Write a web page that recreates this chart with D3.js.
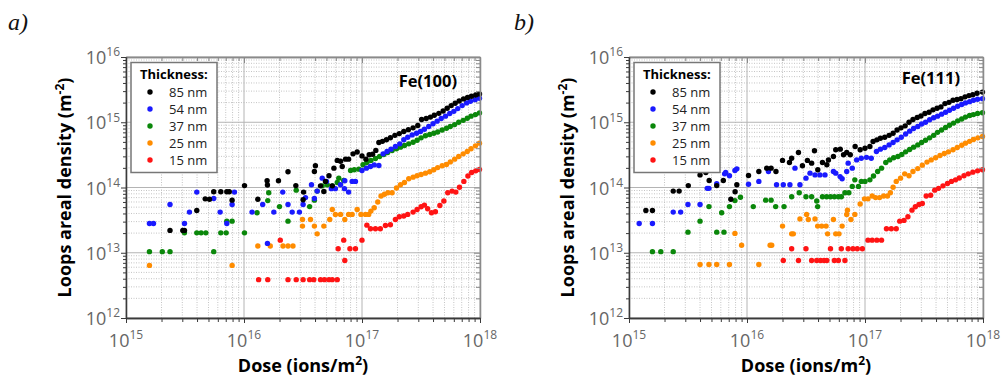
<!DOCTYPE html>
<html>
<head>
<meta charset="utf-8">
<script src="https://cdn.jsdelivr.net/npm/d3@7"></script>
<style>
  body { margin: 0; background: #fff; }
  text { font-family: "Open Sans", sans-serif; }
</style>
</head>
<body>
<svg id="chart" width="1001" height="376"></svg>
<script>
// legend entries and colours
const thicknesses = ['85 nm', '54 nm', '37 nm', '25 nm', '15 nm'];
const colours = ['#000000', '#1a1aff', '#0a870a', '#ff8c00', '#ff1414'];
const xDecades = [1e15, 1e16, 1e17, 1e18];
const yDecades = [1e12, 1e13, 1e14, 1e15, 1e16];

// Fe(100) : [dose (ions/m2), loop density (m-2)]
const fe100_85 = [[2.36e15,2.2e13],[3.03e15,2.2e13],[3.13e15,2.2e13],[3.98e15,4.45e13],[4.69e15,6.7e13],[5.1e15,6.6e13],[5.54e15,8.6e13],[6.36e15,8.6e13],[7.15e15,8.6e13],[7.5e15,8.6e13],[7.93e15,6.4e13],[1.01e16,1.07e14],[1.31e16,6.6e13],[1.57e16,1.27e14],[1.58e16,1.09e14],[1.96e16,1.27e14],[2.36e16,1.74e14],[2.75e16,1.07e14],[3.17e16,6.5e13],[3.2e16,8.5e13],[3.95e16,1.76e14],[4.03e16,2.15e14],[4.45e16,1.06e14],[4.75e16,8.7e13],[4.9e16,1.24e14],[5.25e16,1.51e14],[5.6e16,1.06e14],[5.78e16,1.98e14],[6.17e16,2.6e14],[6.58e16,2.53e14],[6.8e16,2.1e14],[7.25e16,2.72e14],[7.7e16,2.72e14],[8.4e16,3.28e14],[9.1e16,3.5e14],[1.0e17,3.05e14],[1.08e17,2.72e14],[1.15e17,3.17e14],[1.23e17,3.24e14],[1.31e17,3.7e14],[1.39e17,4.9e14],[1.49e17,5.1e14],[1.61e17,5.4e14],[1.74e17,5.8e14],[1.9e17,6.3e14],[2.07e17,6.7e14],[2.26e17,7.2e14],[2.47e17,7.7e14],[2.71e17,8.2e14],[2.97e17,8.9e14],[3.2e17,1.1e15],[3.5e17,1.14e15],[3.8e17,1.2e15],[4.1e17,1.28e15],[4.48e17,1.37e15],[4.87e17,1.49e15],[5.27e17,1.64e15],[5.7e17,1.8e15],[6.16e17,1.96e15],[6.66e17,2.12e15],[7.25e17,2.28e15],[7.84e17,2.39e15],[8.47e17,2.5e15],[9.2e17,2.62e15],[9.9e17,2.72e15]];
const fe100_54 = [[1.58e15,2.8e13],[1.71e15,2.8e13],[2.36e15,5.5e13],[3.13e15,2.8e13],[3.45e15,4.2e13],[3.98e15,8.5e13],[5.54e15,6.8e13],[6.28e15,4.2e13],[7.15e15,2.8e13],[7.93e15,5.5e13],[8.3e15,8.5e13],[1.17e16,4.2e13],[1.44e16,5.5e13],[1.58e16,1.39e13],[1.79e16,4.2e13],[2.13e16,8.5e13],[2.36e16,5.5e13],[2.56e16,4.2e13],[2.95e16,4.2e13],[3.17e16,5.5e13],[3.32e16,7.0e13],[3.73e16,1.1e14],[3.95e16,6.8e13],[4.17e16,8.8e13],[4.6e16,1.39e14],[5.0e16,1.24e14],[5.5e16,9.6e13],[5.95e16,9.6e13],[6.58e16,1.1e14],[7.1e16,9.6e13],[7.15e16,1.27e14],[7.7e16,8.5e13],[8.25e16,1.24e14],[8.8e16,1.24e14],[1.0e17,1.82e14],[1.09e17,1.98e14],[1.18e17,2.1e14],[1.27e17,2.22e14],[1.39e17,2.17e14],[1.51e17,3.28e14],[1.63e17,3.56e14],[1.76e17,3.87e14],[1.92e17,4.25e14],[2.09e17,4.67e14],[2.26e17,5.4e14],[2.44e17,5.9e14],[2.66e17,6.4e14],[2.9e17,6.8e14],[3.13e17,7.2e14],[3.38e17,7.8e14],[3.68e17,8.6e14],[4.0e17,9.5e14],[4.33e17,1.04e15],[4.69e17,1.14e15],[5.1e17,1.24e15],[5.54e17,1.36e15],[6.0e17,1.47e15],[6.48e17,1.62e15],[7.06e17,1.8e15],[7.7e17,1.98e15],[8.3e17,2.1e15],[9.1e17,2.22e15],[9.9e17,2.33e15]];
const fe100_37 = [[1.58e15,1.04e13],[2.03e15,1.04e13],[2.36e15,1.04e13],[3.13e15,2.02e13],[3.98e15,2.02e13],[4.33e15,2.02e13],[4.75e15,2.02e13],[5.54e15,1.04e13],[6.36e15,2.02e13],[7.06e15,2.02e13],[7.15e15,3.05e13],[7.93e15,3.05e13],[1.01e16,2.02e13],[1.29e16,4.1e13],[1.59e16,6.3e13],[1.62e16,8.3e13],[2.0e16,5.1e13],[2.36e16,3.05e13],[2.77e16,9.1e13],[3.6e16,5.1e13],[3.95e16,6.4e13],[4.17e16,8.8e13],[4.6e16,1.06e14],[5.07e16,1.1e14],[5.6e16,1.06e14],[6.17e16,1.19e14],[6.36e16,1.39e14],[7.0e16,1.28e14],[8.0e16,1.82e14],[8.6e16,1.87e14],[9.4e16,1.91e14],[1.02e17,2.23e14],[1.1e17,2.42e14],[1.19e17,2.6e14],[1.3e17,2.78e14],[1.41e17,2.98e14],[1.53e17,3.2e14],[1.65e17,3.44e14],[1.8e17,3.69e14],[1.96e17,3.92e14],[2.12e17,4.15e14],[2.29e17,4.4e14],[2.49e17,4.67e14],[2.71e17,4.95e14],[2.93e17,5.3e14],[3.17e17,5.77e14],[3.45e17,6.2e14],[3.75e17,6.5e14],[4.06e17,6.8e14],[4.38e17,7.1e14],[4.78e17,7.6e14],[5.2e17,8.1e14],[5.6e17,8.6e14],[6.1e17,9.2e14],[6.6e17,1.0e15],[7.2e17,1.07e15],[7.8e17,1.15e15],[8.4e17,1.24e15],[9.15e17,1.31e15],[9.9e17,1.39e15]];
const fe100_25 = [[1.58e15,6.4e12],[7.93e15,6.4e12],[1.31e16,1.27e13],[1.67e16,1.27e13],[2.14e16,1.27e13],[2.36e16,1.27e13],[2.6e16,1.27e13],[3.13e16,3.24e13],[3.13e16,2.56e13],[3.66e16,3.24e13],[3.95e16,2.56e13],[4.17e16,1.95e13],[4.75e16,2.56e13],[5.33e16,3.24e13],[5.6e16,4.6e13],[5.95e16,3.87e13],[6.58e16,3.87e13],[7.15e16,3.24e13],[7.7e16,3.87e13],[8.25e16,3.87e13],[9.1e16,4.6e13],[9.8e16,3.87e13],[1.07e17,3.87e13],[1.14e17,3.87e13],[1.19e17,4.35e13],[1.27e17,4.9e13],[1.36e17,6.0e13],[1.45e17,7.4e13],[1.55e17,7.9e13],[1.66e17,8.3e13],[1.8e17,8.3e13],[1.96e17,9.8e13],[2.12e17,1.1e14],[2.29e17,1.19e14],[2.49e17,1.36e14],[2.71e17,1.44e14],[2.93e17,1.51e14],[3.17e17,1.58e14],[3.45e17,1.66e14],[3.75e17,1.74e14],[4.06e17,1.87e14],[4.38e17,2.02e14],[4.78e17,2.15e14],[5.2e17,2.25e14],[5.6e17,2.47e14],[6.1e17,2.72e14],[6.6e17,2.98e14],[7.2e17,3.28e14],[7.8e17,3.56e14],[8.4e17,3.92e14],[9.15e17,4.35e14],[9.9e17,4.78e14]];
const fe100_15 = [[1.33e16,3.87e12],[1.59e16,3.87e12],[2.03e16,1.56e13],[2.36e16,3.87e12],[2.77e16,3.87e12],[3.17e16,3.87e12],[3.6e16,3.87e12],[3.9e16,3.87e12],[4.45e16,3.87e12],[4.8e16,3.87e12],[5.25e16,3.87e12],[5.6e16,3.87e12],[6.17e16,3.87e12],[6.28e16,1.15e13],[7.0e16,1.56e13],[7.15e16,7.6e12],[7.9e16,1.15e13],[8.8e16,1.15e13],[1.0e17,1.56e13],[1.1e17,2.65e13],[1.18e17,2.33e13],[1.3e17,2.33e13],[1.43e17,2.33e13],[1.58e17,2.62e13],[1.74e17,2.69e13],[1.92e17,3.24e13],[2.07e17,3.56e13],[2.26e17,3.65e13],[2.44e17,3.87e13],[2.71e17,4.2e13],[2.93e17,4.6e13],[3.17e17,5.07e13],[3.38e17,5.37e13],[3.6e17,4.72e13],[3.88e17,4.1e13],[4.19e17,4.25e13],[4.57e17,5.3e13],[4.94e17,6.2e13],[5.33e17,8.3e13],[5.8e17,8.8e13],[6.24e17,8.5e13],[6.7e17,1.01e14],[7.3e17,1.24e14],[7.9e17,1.5e14],[8.5e17,1.7e14],[9.2e17,1.8e14],[9.9e17,1.89e14]];

// Fe(111)
const fe111_85 = [[1.39e15,4.45e13],[1.58e15,4.45e13],[2.37e15,8.8e13],[2.66e15,8.8e13],[3.18e15,1.07e14],[4.0e15,1.56e14],[4.48e15,1.7e14],[4.78e15,1.28e14],[5.54e15,1.07e14],[6.3e15,1.28e14],[7.3e15,6.6e13],[7.93e15,8.6e13],[8.2e15,1.1e14],[1.03e16,1.53e14],[1.26e16,1.76e14],[1.47e16,1.98e14],[1.6e16,1.98e14],[1.76e16,1.76e14],[2.0e16,2.6e14],[2.29e16,2.42e14],[2.39e16,2.8e14],[2.73e16,3.44e14],[2.95e16,2.15e14],[3.25e16,2.6e14],[3.53e16,2.36e14],[3.73e16,3.65e14],[3.98e16,1.87e14],[4.36e16,2.42e14],[4.75e16,2.23e14],[4.9e16,2.65e14],[5.4e16,2.98e14],[5.65e16,3.78e14],[6.17e16,3.87e14],[6.58e16,3.17e14],[7.0e16,3.44e14],[7.5e16,3.17e14],[8.25e16,4.25e14],[9.1e16,3.78e14],[1.0e17,4.0e14],[1.1e17,4.25e14],[1.17e17,5.07e14],[1.26e17,5.37e14],[1.35e17,5.7e14],[1.47e17,5.9e14],[1.6e17,6.3e14],[1.73e17,6.8e14],[1.87e17,7.6e14],[2.02e17,8.2e14],[2.19e17,8.8e14],[2.36e17,1.0e15],[2.55e17,1.1e15],[2.77e17,1.18e15],[2.98e17,1.25e15],[3.22e17,1.36e15],[3.49e17,1.42e15],[3.77e17,1.55e15],[4.08e17,1.64e15],[4.4e17,1.72e15],[4.76e17,1.93e15],[5.15e17,2.02e15],[5.57e17,2.17e15],[6.02e17,2.23e15],[6.5e17,2.3e15],[7.04e17,2.45e15],[7.6e17,2.56e15],[8.2e17,2.65e15],[8.9e17,2.78e15],[9.9e17,2.9e15]];
const fe111_54 = [[1.22e15,2.8e13],[1.58e15,2.8e13],[2.37e15,4.2e13],[2.74e15,4.2e13],[3.16e15,5.5e13],[4.0e15,5.5e13],[4.6e15,9.7e13],[4.76e15,9.7e13],[5.54e15,1.14e14],[6.46e15,1.62e14],[6.6e15,1.7e14],[7.1e15,1.51e14],[7.9e15,1.82e14],[8.2e15,1.93e14],[1.03e16,1.12e14],[1.26e16,1.24e14],[1.52e16,1.76e14],[1.78e16,1.1e14],[2.03e16,1.1e14],[2.31e16,1.1e14],[2.55e16,1.98e14],[2.81e16,1.1e14],[3.16e16,1.39e14],[3.42e16,1.66e14],[3.77e16,1.56e14],[4.15e16,1.56e14],[4.58e16,1.56e14],[5.4e16,1.76e14],[5.65e16,1.66e14],[6.15e16,1.47e14],[6.4e16,1.36e14],[7.0e16,1.76e14],[7.2e16,2.36e14],[7.8e16,1.98e14],[8.5e16,2.65e14],[9.3e16,2.8e14],[1.03e17,2.9e14],[1.13e17,2.8e14],[1.25e17,3.56e14],[1.35e17,3.87e14],[1.47e17,4.1e14],[1.6e17,4.5e14],[1.73e17,4.9e14],[1.87e17,5.37e14],[2.03e17,5.9e14],[2.21e17,6.6e14],[2.39e17,7.3e14],[2.58e17,8.0e14],[2.8e17,8.6e14],[3.02e17,9.4e14],[3.26e17,1.0e15],[3.53e17,1.09e15],[3.82e17,1.17e15],[4.12e17,1.24e15],[4.46e17,1.33e15],[4.82e17,1.42e15],[5.2e17,1.53e15],[5.63e17,1.64e15],[6.1e17,1.76e15],[6.6e17,1.87e15],[7.1e17,1.98e15],[7.7e17,2.07e15],[8.3e17,2.17e15],[9.0e17,2.25e15],[9.9e17,2.3e15]];
const fe111_37 = [[1.58e15,1.04e13],[1.86e15,1.04e13],[2.37e15,1.04e13],[3.16e15,2.07e13],[4.0e15,3.05e13],[4.76e15,5.1e13],[5.54e15,2.07e13],[6.1e15,4.1e13],[6.38e15,2.07e13],[7.1e15,5.1e13],[7.9e15,6.3e13],[8.8e15,7.1e13],[1.13e16,5.1e13],[1.44e16,6.4e13],[1.6e16,6.4e13],[1.75e16,5.1e13],[2.06e16,5.1e13],[2.39e16,7.2e13],[2.77e16,8.3e13],[3.16e16,7.2e13],[3.53e16,7.2e13],[3.9e16,6.2e13],[3.97e16,5.1e13],[4.36e16,7.2e13],[4.73e16,7.2e13],[5.1e16,7.2e13],[5.5e16,7.2e13],[5.95e16,7.2e13],[6.3e16,7.2e13],[6.76e16,8.3e13],[7.3e16,8.3e13],[7.8e16,1.04e14],[8.2e16,1.31e14],[8.8e16,1.04e14],[9.3e16,1.24e14],[1.0e17,1.24e14],[1.1e17,1.31e14],[1.18e17,1.5e14],[1.28e17,1.76e14],[1.38e17,1.98e14],[1.5e17,2.42e14],[1.62e17,2.65e14],[1.75e17,2.85e14],[1.9e17,2.98e14],[2.05e17,3.2e14],[2.21e17,3.52e14],[2.39e17,3.82e14],[2.58e17,4.15e14],[2.8e17,4.5e14],[3.02e17,4.9e14],[3.26e17,5.3e14],[3.53e17,5.77e14],[3.82e17,6.3e14],[4.12e17,7.0e14],[4.46e17,7.6e14],[4.82e17,8.3e14],[5.2e17,9.0e14],[5.63e17,9.7e14],[6.1e17,1.05e15],[6.6e17,1.12e15],[7.1e17,1.2e15],[7.7e17,1.27e15],[8.3e17,1.31e15],[9.0e17,1.36e15],[9.9e17,1.4e15]];
const fe111_25 = [[4.0e15,6.6e12],[4.76e15,6.6e12],[5.54e15,6.6e12],[7.1e15,6.6e12],[7.9e15,1.98e13],[9.0e15,1.3e13],[1.26e16,6.6e12],[1.57e16,1.3e13],[1.62e16,1.3e13],[2.0e16,2.56e13],[2.39e16,1.95e13],[2.47e16,1.95e13],[2.81e16,3.3e13],[3.2e16,3.87e13],[3.31e16,3.24e13],[3.77e16,3.3e13],[3.97e16,2.56e13],[4.3e16,2.56e13],[4.68e16,2.56e13],[4.82e16,1.95e13],[5.4e16,3.24e13],[5.65e16,1.95e13],[6.02e16,1.95e13],[6.4e16,2.56e13],[7.0e16,3.87e13],[7.1e16,4.5e13],[7.6e16,3.24e13],[8.2e16,3.87e13],[9.1e16,5.6e13],[9.9e16,6.7e13],[1.06e17,6.7e13],[1.15e17,7.4e13],[1.23e17,7.0e13],[1.33e17,7.0e13],[1.44e17,7.4e13],[1.55e17,7.4e13],[1.64e17,8.3e13],[1.73e17,1.01e14],[1.84e17,1.24e14],[2.0e17,1.39e14],[2.17e17,1.62e14],[2.36e17,1.51e14],[2.55e17,1.76e14],[2.8e17,1.95e14],[3.06e17,2.2e14],[3.35e17,2.45e14],[3.64e17,2.65e14],[3.97e17,2.85e14],[4.32e17,3.1e14],[4.7e17,3.32e14],[5.1e17,3.52e14],[5.57e17,3.78e14],[6.05e17,4.1e14],[6.6e17,4.45e14],[7.1e17,4.78e14],[7.7e17,5.1e14],[8.3e17,5.45e14],[9.05e17,5.77e14],[9.9e17,6.05e14]];
const fe111_15 = [[2.03e16,7.6e12],[2.39e16,1.15e13],[2.73e16,7.6e12],[3.16e16,1.15e13],[3.53e16,7.6e12],[3.9e16,7.6e12],[4.2e16,7.6e12],[4.5e16,7.6e12],[4.75e16,7.6e12],[5.1e16,1.15e13],[5.5e16,7.6e12],[5.95e16,7.6e12],[6.3e16,1.15e13],[6.76e16,7.6e12],[7.2e16,1.15e13],[7.9e16,1.15e13],[8.6e16,1.15e13],[9.5e16,1.15e13],[1.06e17,1.56e13],[1.15e17,1.56e13],[1.26e17,1.56e13],[1.38e17,1.56e13],[1.52e17,2.33e13],[1.67e17,2.33e13],[1.84e17,2.33e13],[1.97e17,3.05e13],[2.14e17,3.13e13],[2.31e17,3.56e13],[2.5e17,4.5e13],[2.67e17,5.07e13],[2.87e17,5.5e13],[3.06e17,5.7e13],[3.3e17,7.4e13],[3.6e17,7.6e13],[3.9e17,9.1e13],[4.2e17,9.7e13],[4.58e17,1.06e14],[5.0e17,1.15e14],[5.4e17,1.24e14],[5.85e17,1.31e14],[6.3e17,1.4e14],[6.9e17,1.51e14],[7.5e17,1.62e14],[8.2e17,1.72e14],[9.0e17,1.8e14],[9.9e17,1.87e14]];

const panels = [
  { tag: 'a)', tagX: 8, title: 'Fe(100)', titleY: 30, left: 126, top: 57,
    series: [fe100_85, fe100_54, fe100_37, fe100_25, fe100_15] },
  { tag: 'b)', tagX: 514, title: 'Fe(111)', titleY: 27, left: 629, top: 57,
    series: [fe111_85, fe111_54, fe111_37, fe111_25, fe111_15] }
];
const plotW = 354, plotH = 261;

const svg = d3.select('#chart');

const supLabel = (sel, base, exp, size, supSize) => {
  sel.text(base).append('tspan')
    .attr('dy', -size * 0.42)
    .attr('font-size', supSize)
    .text(exp);
};

panels.forEach(p => {
  const x = d3.scaleLog().domain([1e15, 1e18]).range([0, plotW]);
  const y = d3.scaleLog().domain([1e12, 1e16]).range([plotH, 0]);
  const xAll = x.ticks();
  const yAll = y.ticks();
  const xMinor = xAll.filter(t => !xDecades.includes(t));
  const yMinor = yAll.filter(t => !yDecades.includes(t));

  // panel tag
  svg.append('text')
    .attr('x', p.tagX).attr('y', 30)
    .style('font-family', '"Liberation Serif", serif')
    .style('font-style', 'italic')
    .attr('font-size', 24)
    .attr('fill', '#111')
    .text(p.tag);

  const g = svg.append('g').attr('transform', `translate(${p.left},${p.top})`);

  // grid
  g.append('g').selectAll('line').data(xMinor).join('line')
    .attr('x1', d => x(d)).attr('x2', d => x(d)).attr('y1', 0).attr('y2', plotH)
    .attr('stroke', '#c4c4c4').attr('stroke-dasharray', '1,1.5');
  g.append('g').selectAll('line').data(yMinor).join('line')
    .attr('y1', d => y(d)).attr('y2', d => y(d)).attr('x1', 0).attr('x2', plotW)
    .attr('stroke', '#c4c4c4').attr('stroke-dasharray', '1,1.5');
  g.append('g').selectAll('line').data(xDecades).join('line')
    .attr('x1', d => x(d)).attr('x2', d => x(d)).attr('y1', 0).attr('y2', plotH)
    .attr('stroke', '#b4b4b4');
  g.append('g').selectAll('line').data(yDecades).join('line')
    .attr('y1', d => y(d)).attr('y2', d => y(d)).attr('x1', 0).attr('x2', plotW)
    .attr('stroke', '#b4b4b4');

  // data (black drawn last, on top)
  p.series.slice().reverse().forEach((s, i) => {
    const c = colours[colours.length - 1 - i];
    g.append('g').selectAll('circle').data(s).join('circle')
      .attr('cx', d => x(d[0])).attr('cy', d => y(d[1]))
      .attr('r', 2.7).attr('fill', c);
  });

  // frame and ticks
  const axisStyle = (sel, colour) => {
    sel.selectAll('path').attr('stroke', colour).attr('stroke-width', 1.3);
    sel.selectAll('line').attr('stroke', colour);
    sel.selectAll('text').remove();
  };
  g.append('g').call(d3.axisTop(x).tickValues(xDecades).tickSize(-6).tickSizeOuter(0))
    .call(axisStyle, '#8a8a8a');
  g.append('g').call(d3.axisTop(x).tickValues(xMinor).tickSize(-4).tickSizeOuter(0))
    .call(axisStyle, '#8a8a8a');
  g.append('g').attr('transform', `translate(${plotW},0)`)
    .call(d3.axisRight(y).tickValues(yDecades).tickSize(-6).tickSizeOuter(0))
    .call(axisStyle, '#8a8a8a');
  g.append('g').attr('transform', `translate(${plotW},0)`)
    .call(d3.axisRight(y).tickValues(yMinor).tickSize(-4).tickSizeOuter(0))
    .call(axisStyle, '#8a8a8a');
  g.append('g').attr('transform', `translate(0,${plotH})`)
    .call(d3.axisBottom(x).tickValues(xDecades).tickSize(5).tickSizeOuter(0))
    .call(axisStyle, '#3a3a3a');
  g.append('g').attr('transform', `translate(0,${plotH})`)
    .call(d3.axisBottom(x).tickValues(xMinor).tickSize(4).tickSizeOuter(0))
    .call(axisStyle, '#3a3a3a');
  g.append('g')
    .call(d3.axisLeft(y).tickValues(yDecades).tickSize(5).tickSizeOuter(0))
    .call(axisStyle, '#3a3a3a');
  g.append('g')
    .call(d3.axisLeft(y).tickValues(yMinor).tickSize(3).tickSizeOuter(0))
    .call(axisStyle, '#3a3a3a');

  // tick labels
  g.append('g').selectAll('text').data(xDecades).join('text')
    .attr('x', d => x(d)).attr('y', plotH + 29)
    .attr('text-anchor', 'middle').attr('font-size', 18).attr('fill', '#666')
    .each(function (d) { supLabel(d3.select(this), '10', Math.round(Math.log10(d)), 18, 12); });
  g.append('g').selectAll('text').data(yDecades).join('text')
    .attr('x', -6).attr('y', d => y(d) + 7)
    .attr('text-anchor', 'end').attr('font-size', 18).attr('fill', '#666')
    .each(function (d) { supLabel(d3.select(this), '10', Math.round(Math.log10(d)), 18, 12); });

  // axis titles
  const yt = g.append('text')
    .attr('transform', `translate(-55,${plotH / 2}) rotate(-90)`)
    .attr('text-anchor', 'middle').attr('font-size', 18).attr('font-weight', 'bold')
    .attr('fill', '#000');
  yt.text('Loops areal density (m');
  yt.append('tspan').attr('dy', -7).attr('font-size', 12).text('-2');
  yt.append('tspan').attr('dy', 7).text(')');

  const xt = g.append('text')
    .attr('x', plotW / 2).attr('y', plotH + 54)
    .attr('text-anchor', 'middle').attr('font-size', 18).attr('font-weight', 'bold')
    .attr('fill', '#000');
  xt.text('Dose (ions/m');
  xt.append('tspan').attr('dy', -7).attr('font-size', 12).text('2');
  xt.append('tspan').attr('dy', 7).text(')');

  // sample label
  g.append('text')
    .attr('x', 331).attr('y', p.titleY)
    .attr('text-anchor', 'end').attr('font-size', 16.5).attr('font-weight', 'bold')
    .attr('fill', '#000').text(p.title);

  // legend
  const lg = g.append('g').attr('transform', 'translate(5,5.5)');
  lg.append('rect').attr('width', 86).attr('height', 110)
    .attr('fill', '#fff').attr('stroke', '#777').attr('stroke-width', 1.5);
  lg.append('text').attr('x', 9).attr('y', 16.5)
    .attr('font-size', 13).attr('font-weight', 'bold').attr('fill', '#000')
    .text('Thickness:');
  const rows = lg.selectAll('.row').data(thicknesses).join('g')
    .attr('class', 'row')
    .attr('transform', (d, i) => `translate(0,${29.5 + i * 17})`);
  rows.append('circle').attr('cx', 19).attr('r', 2.7).attr('fill', (d, i) => colours[i]);
  rows.append('text').attr('x', 38).attr('dy', '0.36em')
    .attr('font-size', 13).attr('fill', '#222').text(d => d);
});
</script>
</body>
</html>
